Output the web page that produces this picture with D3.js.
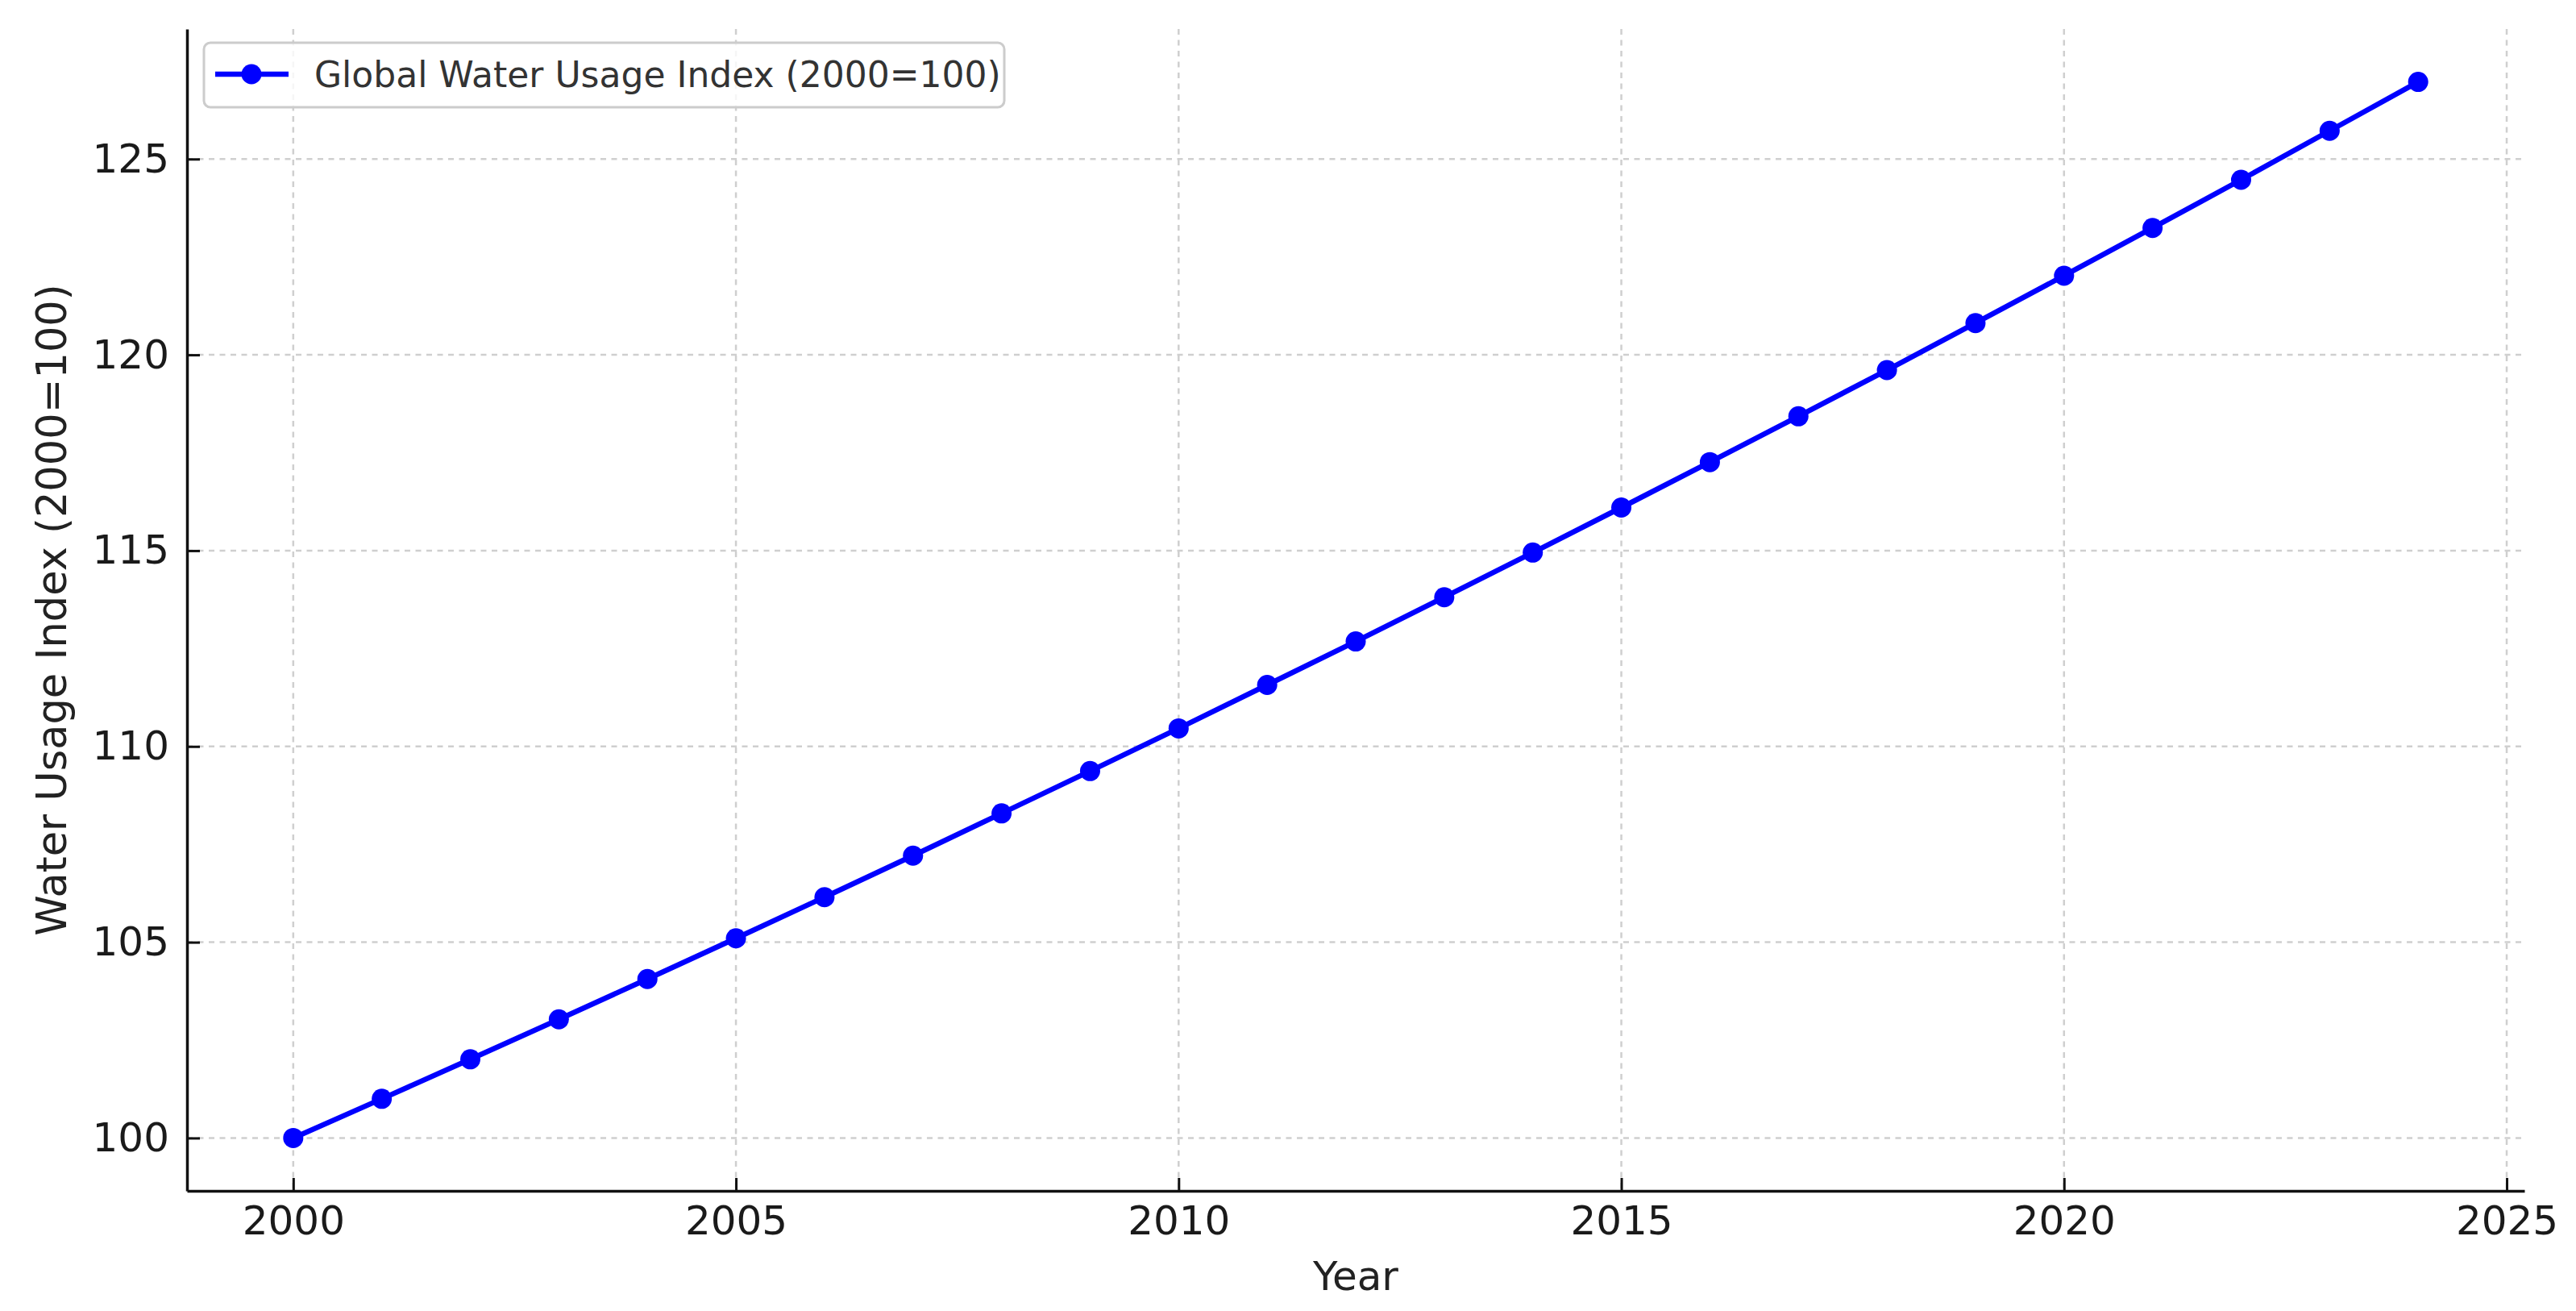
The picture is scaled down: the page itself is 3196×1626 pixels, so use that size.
<!DOCTYPE html>
<html>
<head>
<meta charset="utf-8">
<script src="https://cdn.jsdelivr.net/npm/d3@7"></script>
<style>
  html, body { margin: 0; padding: 0; background: #fff; }
  svg { display: block; }
  text { font-family: "DejaVu Sans", sans-serif; }
</style>
</head>
<body>
<script>
// ---- data ----
const years = [2000, 2001, 2002, 2003, 2004, 2005, 2006, 2007, 2008, 2009, 2010, 2011, 2012,
               2013, 2014, 2015, 2016, 2017, 2018, 2019, 2020, 2021, 2022, 2023, 2024];
const usageIndex = [100.00, 101.00, 102.01, 103.03, 104.06, 105.10, 106.15, 107.21, 108.29, 109.37,
                    110.46, 111.57, 112.68, 113.81, 114.95, 116.10, 117.26, 118.43, 119.61, 120.81,
                    122.02, 123.24, 124.47, 125.72, 126.97];
const xTicks = [2000, 2005, 2010, 2015, 2020, 2025];
const yTicks = [100, 105, 110, 115, 120, 125];
const seriesName = "Global Water Usage Index (2000=100)";
const xLabel = "Year";
const yLabel = "Water Usage Index (2000=100)";

// ---- layout ----
const W = 3196, H = 1626;
const plot = { left: 232, right: 3132, top: 36, bottom: 1477 };

const svg = d3.select("body").append("svg").attr("width", W).attr("height", H);

const x = d3.scaleLinear().domain([1998.8, 2025.2]).range([plot.left, plot.right]);
const y = d3.scaleLinear().domain([98.65, 128.32]).range([plot.bottom, plot.top]);

const gridColor = "#cfcfcf";

// grid lines
const grid = svg.append("g");
grid.selectAll("line.vx").data(xTicks).enter().append("line")
  .attr("x1", d => x(d)).attr("x2", d => x(d))
  .attr("y1", plot.top).attr("y2", plot.bottom)
  .attr("stroke", gridColor).attr("stroke-width", 2.5).attr("stroke-dasharray", "7,6.5");
grid.selectAll("line.hy").data(yTicks).enter().append("line")
  .attr("y1", d => y(d)).attr("y2", d => y(d))
  .attr("x1", plot.left).attr("x2", plot.right)
  .attr("stroke", gridColor).attr("stroke-width", 2.5).attr("stroke-dasharray", "7,6.5");

// axes (inward ticks)
const xAxis = d3.axisBottom(x).tickValues(xTicks).tickFormat(d3.format("d"))
  .tickSizeInner(-16).tickSizeOuter(0).tickPadding(18);
const yAxis = d3.axisLeft(y).tickValues(yTicks).tickFormat(d3.format("d"))
  .tickSizeInner(-16).tickSizeOuter(0).tickPadding(22);

const gx = svg.append("g").attr("transform", `translate(0,${plot.bottom})`).call(xAxis);
const gy = svg.append("g").attr("transform", `translate(${plot.left},0)`).call(yAxis);

[gx, gy].forEach(g => {
  g.select(".domain").attr("stroke", "#111").attr("stroke-width", 3.5);
  g.selectAll(".tick line").attr("stroke", "#111").attr("stroke-width", 3);
  g.selectAll(".tick text").attr("fill", "#1a1a1a").style("font-size", "50px")
    .style("font-family", "'DejaVu Sans', sans-serif");
});
gx.selectAll(".tick text").attr("dy", "0.71em");

// axis labels
svg.append("text").attr("x", (plot.left + plot.right) / 2).attr("y", 1600)
  .attr("text-anchor", "middle").attr("fill", "#222").style("font-size", "50px").text(xLabel);
svg.append("text")
  .attr("transform", `translate(82,${(plot.top + plot.bottom) / 2}) rotate(-90)`)
  .attr("text-anchor", "middle").attr("fill", "#222").style("font-size", "51px").text(yLabel);

// series line + markers
const line = d3.line().x((d, i) => x(years[i])).y(d => y(d));
svg.append("path").datum(usageIndex).attr("d", line)
  .attr("fill", "none").attr("stroke", "#0000ff").attr("stroke-width", 6.5)
  .attr("stroke-linejoin", "round");
svg.append("g").selectAll("circle").data(usageIndex).enter().append("circle")
  .attr("cx", (d, i) => x(years[i])).attr("cy", d => y(d)).attr("r", 12.5)
  .attr("fill", "#0000ff");

// legend
const lg = svg.append("g");
lg.append("rect").attr("x", 253).attr("y", 53).attr("width", 993).attr("height", 80)
  .attr("rx", 8).attr("ry", 8)
  .attr("fill", "#fff").attr("fill-opacity", 0.8)
  .attr("stroke", "#cccccc").attr("stroke-width", 3);
lg.append("line").attr("x1", 267).attr("x2", 358).attr("y1", 92).attr("y2", 92)
  .attr("stroke", "#0000ff").attr("stroke-width", 6.5);
lg.append("circle").attr("cx", 312).attr("cy", 92).attr("r", 12.5).attr("fill", "#0000ff");
lg.append("text").attr("x", 390).attr("y", 108).attr("fill", "#333")
  .style("font-size", "44px").text(seriesName);
</script>
</body>
</html>
